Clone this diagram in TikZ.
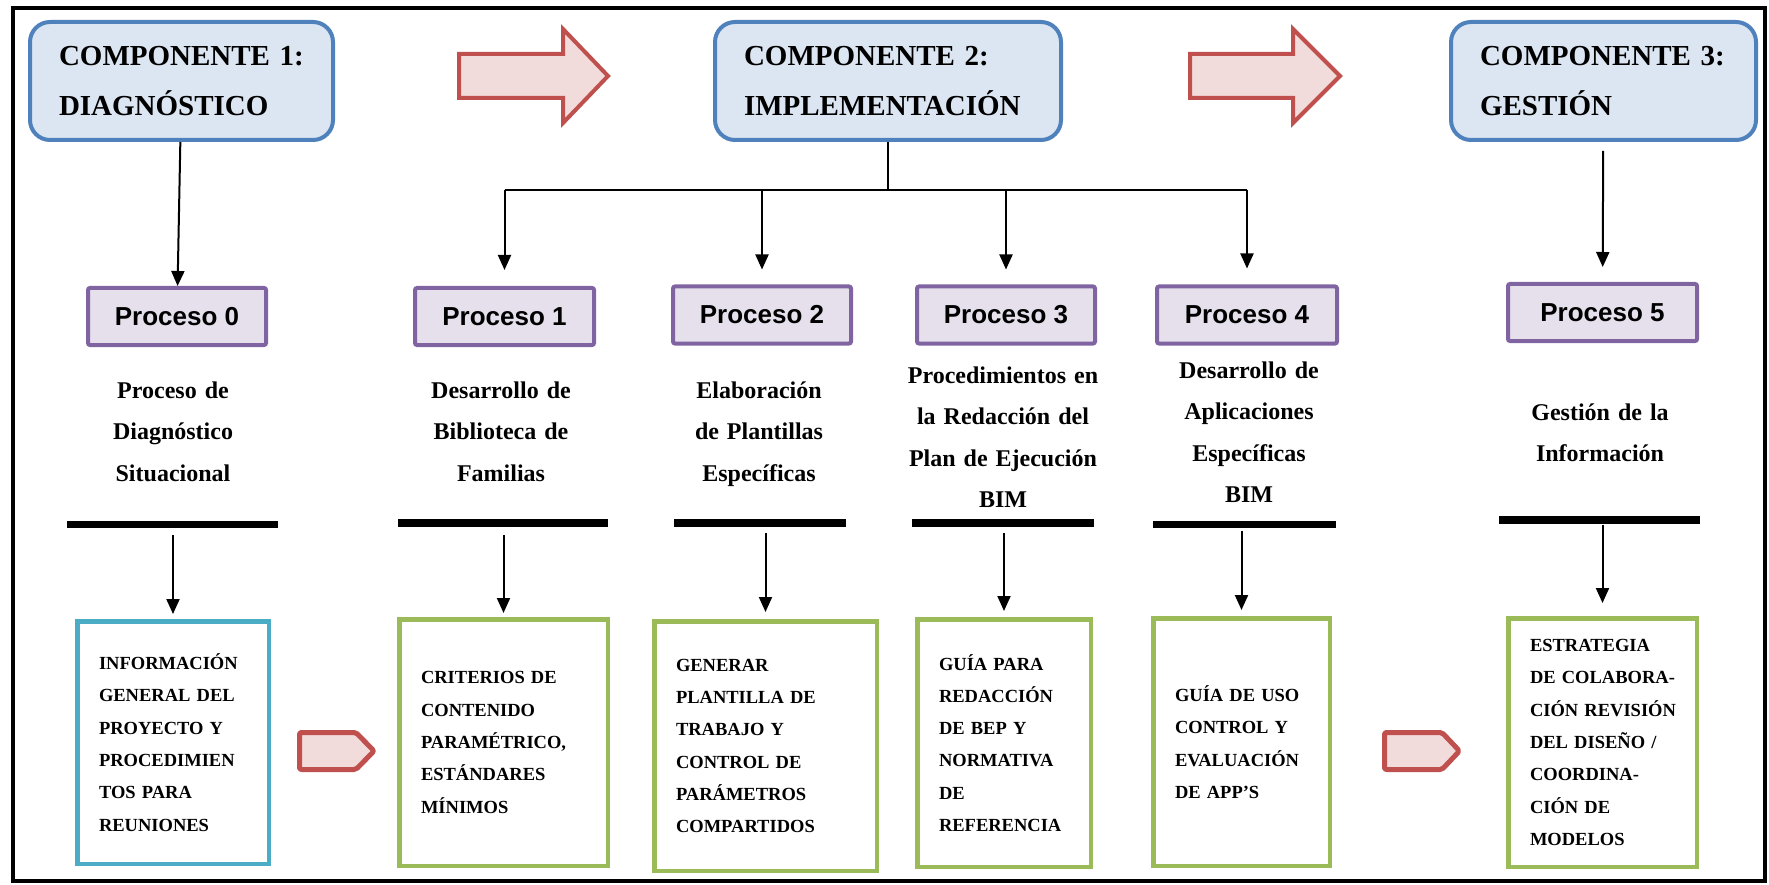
\documentclass[tikz,border=0pt]{standalone}
\usepackage{fontspec}
\setmainfont{Liberation Serif}
\newfontfamily\arialfont{Liberation Sans}
\usetikzlibrary{arrows.meta}
\definecolor{CompBlue}{RGB}{79,129,189}
\definecolor{CompFill}{RGB}{220,230,242}
\definecolor{ProcPurple}{RGB}{128,100,162}
\definecolor{ProcFill}{RGB}{229,224,236}
\definecolor{ArrowRed}{RGB}{192,80,77}
\definecolor{ArrowFill}{RGB}{242,220,219}
\definecolor{ResCyan}{RGB}{75,172,198}
\definecolor{ResGreen}{RGB}{155,187,89}
\tikzset{
    compbox/.style={
        rectangle,
        rounded corners=20pt,
        draw=CompBlue,
        fill=CompFill,
        line width=4pt,
        align=left,
        inner xsep=29pt,
        minimum height=118pt,
        font=\bfseries\fontsize{29}{50}\selectfont
    },
    procbox/.style={
        rectangle,
        rounded corners=2pt,
        draw=ProcPurple,
        fill=ProcFill,
        line width=4pt,
        minimum height=57pt,
        font=\arialfont\bfseries\fontsize{26}{30}\selectfont
    },
    desctext/.style={
        text width=220pt,
        align=center,
        anchor=base,
        inner sep=0pt,
        font=\bfseries\fontsize{24}{41.5}\selectfont
    },
    blackbar/.style={
        rectangle,
        fill=black,
        inner sep=0pt,
        minimum height=7.5pt
    },
    resbox/.style={
        rectangle,
        draw=ResGreen,
        fill=white,
        line width=4.5pt,
        align=left,
        inner xsep=21.75pt,
        font=\bfseries\fontsize{18.5}{32.3}\selectfont
    },
    bigarrow/.style={
        draw=ArrowRed,
        fill=ArrowFill,
        line width=4pt
    },
    smallarrow/.style={
        draw=ArrowRed,
        fill=ArrowFill,
        line width=5pt,
        rounded corners=2pt,
        line join=round
    },
    linkline/.style={
        line width=2pt
    },
    conn/.style={
        -{Triangle[length=15pt, width=13pt]},
        line width=2pt
    }
}
\begin{document}
\begin{tikzpicture}[x=1pt, y=-1pt]
    \useasboundingbox (0,0) rectangle (1769,885);
    \draw[line width=4pt] (13,8) rectangle (1765,881);

    % componentes
    \node[compbox, minimum width=303pt, text width=245pt] (c1) at (181.5,81) {\mbox{COMPONENTE 1:}\\DIAGNÓSTICO};
    \node[compbox, minimum width=346pt, text width=288pt] (c2) at (888,81) {\mbox{COMPONENTE 2:}\\IMPLEMENTACIÓN};
    \node[compbox, minimum width=305pt, text width=247pt] (c3) at (1603.5,81) {\mbox{COMPONENTE 3:}\\GESTIÓN};

    \draw[bigarrow] (459,54) -- (563,54) -- (563,29) -- (608,76) -- (563,123) -- (563,98) -- (459,98) -- cycle;
    \draw[bigarrow] (1190,54) -- (1293,54) -- (1293,29) -- (1340,76) -- (1293,123) -- (1293,98) -- (1190,98) -- cycle;

    % procesos
    \node[procbox, minimum width=178pt] (p0) at (177,316.5) {Proceso 0};
    \node[procbox, minimum width=179pt] (p1) at (504.5,316.5) {Proceso 1};
    \node[procbox, minimum width=178pt] (p2) at (762,315) {Proceso 2};
    \node[procbox, minimum width=178pt] (p3) at (1006,315) {Proceso 3};
    \node[procbox, minimum width=180pt] (p4) at (1247,315) {Proceso 4};
    \node[procbox, minimum width=189pt] (p5) at (1602.5,312.5) {Proceso 5};

    \node[desctext] (d0) at (173,398) {Proceso de\\Diagnóstico\\Situacional};
    \node[desctext] (d1) at (501,398) {Desarrollo de\\Biblioteca de\\Familias};
    \node[desctext] (d2) at (759,398) {Elaboración\\de Plantillas\\Específicas};
    \node[desctext] (d3) at (1003,383) {Procedimientos en\\la Redacción del\\Plan de Ejecución\\BIM};
    \node[desctext] (d4) at (1249,378) {Desarrollo de\\Aplicaciones\\Específicas\\BIM};
    \node[desctext] (d5) at (1600,420) {Gestión de la\\Información};

    \node[blackbar, minimum width=211pt] (bar0) at (172.5,524.5) {};
    \node[blackbar, minimum width=210pt] (bar1) at (503,523) {};
    \node[blackbar, minimum width=172pt] (bar2) at (760,523) {};
    \node[blackbar, minimum width=182pt] (bar3) at (1003,523) {};
    \node[blackbar, minimum width=183pt] (bar4) at (1244.5,524.5) {};
    \node[blackbar, minimum width=201pt] (bar5) at (1599.5,520) {};

    % resultados
    \node[resbox, draw=ResCyan, text width=148pt, minimum height=242.5pt] (b0) at (173,742.5) {INFORMACIÓN\\GENERAL DEL\\PROYECTO Y\\PROCEDIMIEN\\TOS PARA\\REUNIONES};
    \node[resbox, text width=165pt, minimum height=246.5pt] (b1) at (503.5,742.5) {CRITERIOS DE\\CONTENIDO\\PARAMÉTRICO,\\ESTÁNDARES\\MÍNIMOS};
    \node[resbox, text width=179pt, minimum height=249.5pt] (b2) at (765.5,746) {GENERAR\\PLANTILLA DE\\TRABAJO Y\\CONTROL DE\\PARÁMETROS\\COMPARTIDOS};
    \node[resbox, text width=130pt, minimum height=247.5pt] (b3) at (1004,743) {GUÍA PARA\\REDACCIÓN\\DE BEP Y\\NORMATIVA\\DE\\REFERENCIA};
    \node[resbox, text width=133pt, minimum height=247.5pt] (b4) at (1241.5,742) {GUÍA DE USO\\CONTROL Y\\EVALUACIÓN\\DE APP’S};
    \node[resbox, text width=145pt, minimum height=248.5pt] (b5) at (1602.5,742.5) {ESTRATEGIA\\\mbox{DE COLABORA-}\\\mbox{CIÓN REVISIÓN}\\DEL DISEÑO /\\COORDINA-\\CIÓN DE\\MODELOS};

    \draw[smallarrow] (299.5,732.5) -- (356,732.5) -- (374,751) -- (356,769.5) -- (299.5,769.5) -- cycle;
    \draw[smallarrow] (1384.5,732.5) -- (1442,732.5) -- (1459.5,751) -- (1442,769.5) -- (1384.5,769.5) -- cycle;

    % conectores
    \draw[conn] (c1) -- (p0);
    \coordinate (hub) at (888,190);
    \draw[linkline] (c2.south) -- (hub);
    \draw[linkline] (p1.north |- hub) -- (p4.north |- hub);
    \draw[conn, shorten >=16pt] (p1.north |- hub) -- (p1.north);
    \draw[conn, shorten >=15pt] (p2.north |- hub) -- (p2.north);
    \draw[conn, shorten >=15pt] (p3.north |- hub) -- (p3.north);
    \draw[conn, shorten >=16pt] (p4.north |- hub) -- (p4.north);
    \draw[conn, shorten <=9pt, shorten >=15pt] (c3) -- (p5);

    \draw[conn, shorten <=7pt, shorten >=5pt] (b0.north |- bar0.south) -- (b0.north);
    \draw[conn, shorten <=8pt, shorten >=4pt] (b1.north |- bar1.south) -- (b1.north);
    \draw[conn, shorten <=6pt, shorten >=7pt] (b2.north |- bar2.south) -- (b2.north);
    \draw[conn, shorten <=6pt, shorten >=6pt] (b3.north |- bar3.south) -- (b3.north);
    \draw[conn, shorten <=3pt, shorten >=6pt] (b4.north |- bar4.south) -- (b4.north);
    \draw[conn, shorten <=1pt, shorten >=13pt] (b5.north |- bar5.south) -- (b5.north);
\end{tikzpicture}
\end{document}
